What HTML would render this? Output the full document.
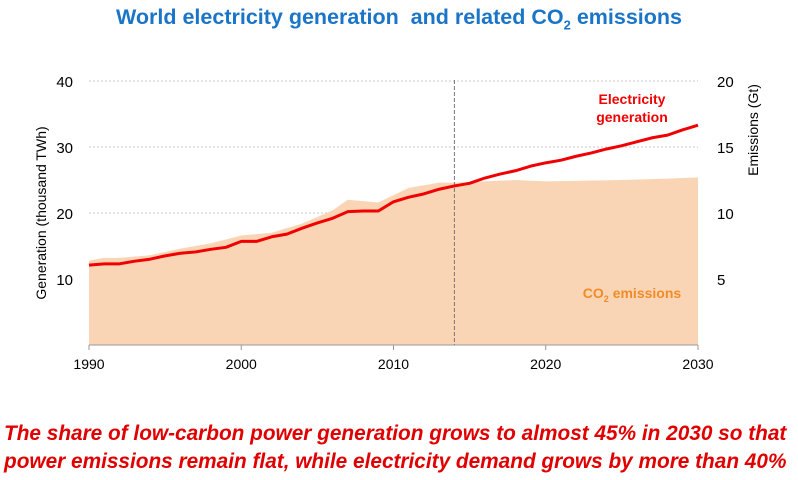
<!DOCTYPE html>
<html><head><meta charset="utf-8">
<style>
body{margin:0;width:798px;height:480px;background:#fff;font-family:"Liberation Sans",sans-serif;overflow:hidden;position:relative}
#title{position:absolute;top:5px;left:0;width:798px;text-align:center;color:#1a75c9;font-weight:bold;font-size:21.5px;white-space:nowrap}
#note{position:absolute;left:4px;top:420px;color:#e00000;font-weight:bold;font-style:italic;font-size:20.8px;line-height:28px;white-space:nowrap}
svg{position:absolute;left:0;top:0}
</style></head><body>
<div id="title">World electricity generation &nbsp;and related CO<sub style="font-size:13px">2</sub> emissions</div>
<svg id="c" width="798" height="480"></svg>
<div id="note">The share of low-carbon power generation grows to almost 45% in 2030 so that<br>power emissions remain flat, while electricity demand grows by more than 40%</div>
<script>
const genYears=[1990,1991,1992,1993,1994,1995,1996,1997,1998,1999,2000,2001,2002,2003,2004,2005,2006,2007,2008,2009,2010,2011,2012,2013,2014,2015,2016,2017,2018,2019,2020,2021,2022,2023,2024,2025,2026,2027,2028,2029,2030];
const generation=[12.1,12.3,12.3,12.7,13.0,13.5,13.9,14.1,14.5,14.8,15.7,15.7,16.4,16.8,17.7,18.5,19.2,20.2,20.3,20.3,21.7,22.4,22.9,23.6,24.1,24.5,25.3,25.9,26.4,27.1,27.6,28.0,28.6,29.1,29.7,30.2,30.8,31.4,31.8,32.6,33.3];
const emYears=[1990,1991,1992,1994,1996,1998,2000,2002,2004,2006,2007,2009,2011,2013,2014,2016,2018,2020,2025,2028,2030];
const emissions=[6.4,6.6,6.6,6.8,7.3,7.7,8.3,8.5,9.2,10.2,11.0,10.8,11.9,12.3,12.3,12.4,12.5,12.4,12.5,12.6,12.7];
const xTicks=[1990,2000,2010,2020,2030];
const leftTicks=[10,20,30,40];
const rightTicks=[5,10,15,20];
const NS="http://www.w3.org/2000/svg";
const svg=document.getElementById('c');
const X=y=>89+(y-1990)*609/40;
const YL=v=>345-v*6.6;
const YR=v=>345-v*13.2;
function el(t,a,p){const e=document.createElementNS(NS,t);for(const k in a)e.setAttribute(k,a[k]);(p||svg).appendChild(e);return e;}
leftTicks.forEach(v=>{
 const g=el('line',{x1:89,x2:698,y1:YL(v),y2:YL(v),stroke:'#c8c8c8','stroke-dasharray':'2,2'});
 
 
 const t=el('text',{x:73,y:YL(v)+6,'text-anchor':'end','font-size':15,fill:'#000'});t.textContent=v;
 
 
});
rightTicks.forEach(v=>{
 const t=el('text',{x:717,y:YR(v)+6,'font-size':15,fill:'#000'});t.textContent=v;
 
 
});
let d='M'+X(emYears[0])+','+YR(0);
emYears.forEach((y,i)=>d+=' L'+X(y)+','+YR(emissions[i]));
d+=' L'+X(emYears[emYears.length-1])+','+YR(0)+'Z';
const area=el('path',{d:d,fill:'#fad5b5'});


const ax=el('line',{x1:89,x2:698,y1:345,y2:345,stroke:'#999'});


xTicks.forEach(v=>{
 el('line',{x1:X(v),x2:X(v),y1:345,y2:350,stroke:'#999'});
 const t=el('text',{x:X(v),y:369,'text-anchor':'middle','font-size':14,fill:'#000'});t.textContent=v;
 
 
});
const pl=el('line',{x1:X(2014),x2:X(2014),y1:80,y2:345,stroke:'#777','stroke-dasharray':'4,2'});


const gl=el('polyline',{points:genYears.map((y,i)=>X(y)+','+YL(generation[i])).join(' '),fill:'none',stroke:'#f00000','stroke-width':3,'stroke-linejoin':'round'});


const l1=el('text',{x:632,y:104,'text-anchor':'middle','font-size':14,'font-weight':'bold',fill:'#f00000'});
l1.innerHTML='<tspan x="632">Electricity</tspan><tspan x="632" dy="18">generation</tspan>';


const l2=el('text',{x:632,y:298,'text-anchor':'middle','font-size':14,'font-weight':'bold',fill:'#f08c28'});
l2.innerHTML='CO<tspan font-size="9" dy="4">2</tspan><tspan dy="-4"> emissions</tspan>';


const yl=el('text',{transform:'translate(46,213) rotate(-90)','text-anchor':'middle','font-size':14,fill:'#000'});
yl.textContent='Generation (thousand TWh)';


const yr=el('text',{transform:'translate(758,130) rotate(-90)','text-anchor':'middle','font-size':14,fill:'#000'});
yr.textContent='Emissions (Gt)';


</script>
</body></html>
